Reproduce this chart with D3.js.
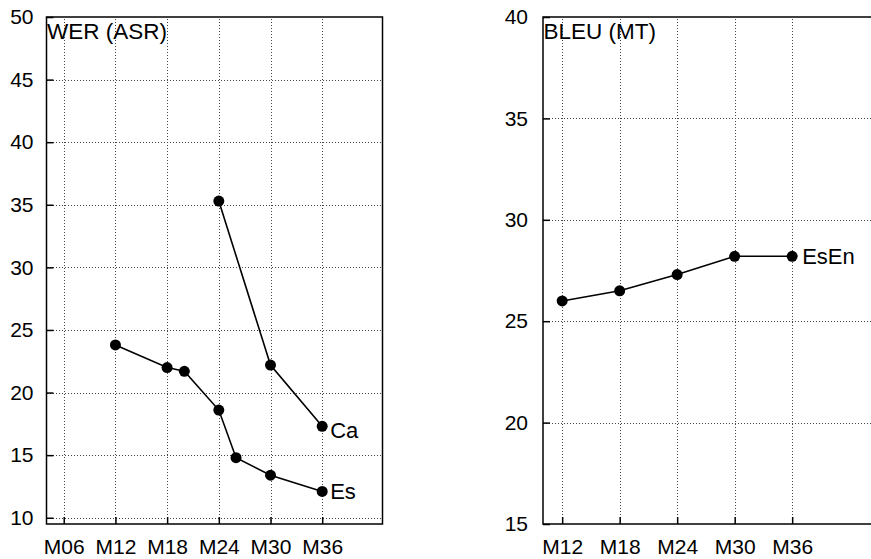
<html>
<meta charset="utf-8">
<script src="https://cdn.jsdelivr.net/npm/d3@7"></script>
<style>
body{ margin:0; background:white; }
svg text{ font-family: "Liberation Sans", Arial, sans-serif; font-size:21px; fill:black; }
svg text.title{ font-size:22.5px; }
svg text.label{ font-size:22px; }
.grid line{ stroke:#444; stroke-width:1; stroke-dasharray:1,2; shape-rendering:crispEdges; }
.frame{ fill:none; stroke:black; stroke-width:1.5; }
.series{ fill:none; stroke:black; stroke-width:1.6; }
</style>
<body>
<div id="chart"></div>
<script>
// WER (ASR) panel
var werMonthTicks = [6, 12, 18, 24, 30, 36];
var werTicks = [10, 15, 20, 25, 30, 35, 40, 45, 50];
var esMonths = [12, 18, 20, 24, 26, 30, 36];
var esWer = [23.8, 22.0, 21.7, 18.6, 14.8, 13.4, 12.1];
var caMonths = [24, 30, 36];
var caWer = [35.3, 22.2, 17.3];

// BLEU (MT) panel
var bleuMonthTicks = [12, 18, 24, 30, 36];
var bleuTicks = [15, 20, 25, 30, 35, 40];
var esEnMonths = [12, 18, 24, 30, 36];
var esEnBleu = [26.0, 26.5, 27.3, 28.2, 28.2];

var width = 871, height = 559;
var svg = d3.select("#chart").append("svg").attr("width", width).attr("height", height);

var monthFmt = function(d){ return "M" + d3.format("02d")(d); };

function drawPanel(opt){
  var x = d3.scaleLinear().domain(opt.xDomain).range(opt.xRange);
  var y = d3.scaleLinear().domain(opt.yDomain).range([524, 17]);
  var g = svg.append("g");

  // grid
  var grid = g.append("g").attr("class", "grid");
  grid.selectAll(".vg").data(opt.xTicks).enter().append("line")
      .attr("x1", function(d){ return Math.round(x(d)) + 0.5; })
      .attr("x2", function(d){ return Math.round(x(d)) + 0.5; })
      .attr("y1", y.range()[0]).attr("y2", y.range()[1]);
  grid.selectAll(".hg").data(opt.yTicks.filter(function(d){ return y(d) > 20 && y(d) < 520; })).enter().append("line")
      .attr("y1", function(d){ return Math.round(y(d)) + 0.5; })
      .attr("y2", function(d){ return Math.round(y(d)) + 0.5; })
      .attr("x1", x.range()[0]).attr("x2", x.range()[1]);

  // axes, ticks pointing inward
  var yAxis = g.append("g").attr("transform", "translate(" + x.range()[0] + ",0)")
      .call(d3.axisLeft(y).tickValues(opt.yTicks).tickSizeInner(-7).tickSizeOuter(0).tickPadding(opt.yPad));
  var xAxis = g.append("g").attr("transform", "translate(0," + y.range()[0] + ")")
      .call(d3.axisBottom(x).tickValues(opt.xTicks).tickFormat(monthFmt).tickSizeInner(-7).tickSizeOuter(0).tickPadding(15));
  [yAxis, xAxis].forEach(function(a){
    a.select(".domain").remove();
    a.selectAll("line").attr("stroke", "black").attr("stroke-width", 1.5);
    a.attr("font-family", null).attr("font-size", null);
  });

  // frame
  g.append("rect").attr("class", "frame")
    .attr("x", x.range()[0]).attr("y", y.range()[1])
    .attr("width", x.range()[1] - x.range()[0])
    .attr("height", y.range()[0] - y.range()[1]);

  g.append("text").attr("class", "title").attr("x", x.range()[0] + 0.5).attr("y", 38.5).text(opt.title);

  var line = d3.line().x(function(d){ return x(d[0]); }).y(function(d){ return y(d[1]); });
  opt.series.forEach(function(s){
    var pts = d3.zip(s.months, s.values);
    g.append("path").attr("class", "series").attr("d", line(pts));
    g.selectAll(null).data(pts).enter().append("circle")
      .attr("cx", function(d){ return x(d[0]); })
      .attr("cy", function(d){ return y(d[1]); })
      .attr("r", 5.5).attr("fill", "black");
    var last = pts[pts.length - 1];
    g.append("text").attr("class", "label").attr("x", x(last[0]) + s.dx).attr("y", y(last[1]) + s.dy).text(s.name);
  });
}

drawPanel({
  title: "WER (ASR)",
  xDomain: [4, 43], xRange: [46.5, 382.5],
  yDomain: [9.5, 50], yPad: 13,
  xTicks: werMonthTicks, yTicks: werTicks,
  series: [
    {name: "Ca", months: caMonths, values: caWer, dx: 8, dy: 12},
    {name: "Es", months: esMonths, values: esWer, dx: 8, dy: 8}
  ]
});

drawPanel({
  title: "BLEU (MT)",
  xDomain: [10, 46], xRange: [543, 888],
  yDomain: [15, 40], yPad: 15,
  xTicks: bleuMonthTicks, yTicks: bleuTicks,
  series: [
    {name: "EsEn", months: esEnMonths, values: esEnBleu, dx: 10, dy: 7.5}
  ]
});
</script>
</body>
</html>
